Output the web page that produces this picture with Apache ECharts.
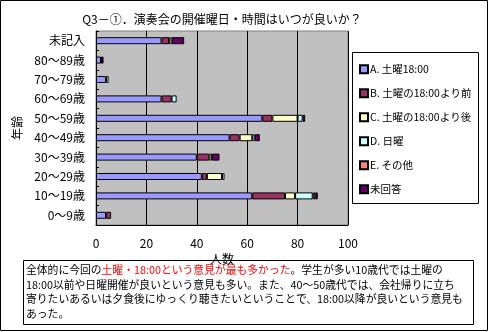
<!DOCTYPE html>
<html>
<head>
<meta charset="utf-8">
<script src="https://cdn.jsdelivr.net/npm/echarts@6/dist/echarts.min.js"></script>
<style>
html,body{margin:0;padding:0;background:#fff;}
#c{width:489px;height:332px;}
</style>
</head>
<body>
<div id="c"></div>
<script>
const categories = ['0～9歳','10～19歳','20～29歳','30～39歳','40～49歳','50～59歳','60～69歳','70～79歳','80～89歳','未記入'];
const seriesNames = ['A. 土曜18:00','B. 土曜の18:00より前','C. 土曜の18:00より後','D. 日曜','E. その他','未回答'];
const valuesA = [4, 62, 42, 40, 53, 66, 26, 4, 2, 26];
const valuesB = [2, 13, 2, 5, 4, 4, 4, 0, 0, 3];
const valuesC = [0, 4, 6, 0, 5, 10, 0, 1, 0, 1];
const valuesD = [0, 7, 1, 1, 1, 2, 2, 0, 0, 0];
const valuesE = [0, 1, 0, 0, 0, 0, 0, 0, 0, 0];
const valuesU = [0, 1, 0, 3, 2, 1, 0, 0, 1, 5];
const xTicks = [0, 20, 40, 60, 80, 100];
const titleText = 'Q3－①．演奏会の開催曜日・時間はいつが良いか？';
const yName = '年齢';
const xName = '人数';

const colors = ['#9999FF','#993366','#FFFFCC','#CCFFFF','#FF8080','#660066'];
const allValues = [valuesA, valuesB, valuesC, valuesD, valuesE, valuesU];
const font = '"Noto Sans CJK JP", "Noto Sans", sans-serif';

const chart = echarts.init(document.getElementById('c'), null, {renderer:'canvas'});
const option = {
  backgroundColor: '#fff',
  animation: false,
  textStyle: {fontFamily: font},
  grid: {left: 96, right: 141, top: 31, bottom: 107, show: true, backgroundColor: '#C0C0C0', borderColor: '#808080', borderWidth: 1},
  legend: {
    orient: 'vertical', left: 354, top: 59, itemGap: 13.5,
    icon: 'rect', itemWidth: 8, itemHeight: 8,
    textStyle: {fontSize: 10.5, color: '#000', fontFamily: font, padding: [0,0,0,-3]},
    data: seriesNames
  },
  xAxis: {
    type: 'value', min: xTicks[0], max: xTicks[xTicks.length-1], interval: 20,
    name: xName, nameLocation: 'middle', nameGap: 26,
    nameTextStyle: {fontSize: 12, color: '#000', fontFamily: font},
    axisLine: {show: true, lineStyle: {color: '#000', width: 1}},
    axisTick: {show: false},
    axisLabel: {fontSize: 12, color: '#000', margin: 12, fontFamily: font},
    splitLine: {show: true, lineStyle: {color: '#000', width: 1}}
  },
  yAxis: {
    type: 'category', data: categories,
    name: yName, nameLocation: 'middle', nameGap: 66, nameRotate: 90,
    nameTextStyle: {fontSize: 12, color: '#000', fontFamily: font},
    axisLine: {show: true, lineStyle: {color: '#000', width: 1}},
    axisTick: {show: true, inside: true, length: 3, lineStyle: {color: '#000'}},
    axisLabel: {fontSize: 12, color: '#000', margin: 11, fontFamily: font},
    splitLine: {show: false}
  },
  series: seriesNames.map((n, i) => ({
    name: n, type: 'bar', stack: 'total', barWidth: 7,
    itemStyle: {color: colors[i], borderColor: '#000', borderWidth: 1},
    data: allValues[i].map(v => v === 0 ? null : v)
  })),
  graphic: [
    {type: 'rect', z: -10, shape: {x: 0.5, y: 0.5, width: 487, height: 330}, style: {fill: '#fff', stroke: '#000', lineWidth: 1}},
    {type: 'rect', z: -5, shape: {x: 352.5, y: 52.5, width: 126, height: 151}, style: {fill: '#fff', stroke: '#000', lineWidth: 1}},
    {type: 'text', x: 222, y: 19, style: {text: titleText, fontSize: 12, fill: '#000', fontFamily: font, align: 'center', verticalAlign: 'middle'}},
    {type: 'rect', shape: {x: 23.5, y: 260.5, width: 450, height: 64}, style: {fill: '#fff', stroke: '#000', lineWidth: 1}},
    {type: 'text', x: 26, y: 263, style: {
      text: '全体的に今回の{r|土曜・18:00という意見が最も多かった}。学生が多い10歳代では土曜の\n18:00以前や日曜開催が良いという意見も多い。また、40～50歳代では、会社帰りに立ち\n寄りたいあるいは夕食後にゆっくり聴きたいということで、18:00以降が良いという意見も\nあった。',
      fontSize: 10.8, lineHeight: 14.5, fill: '#000', fontFamily: font,
      rich: {r: {fill: '#FF0000', fontSize: 10.8, lineHeight: 14.5, fontFamily: font}}
    }}
  ]
};
chart.setOption(option);
</script>
</body>
</html>
